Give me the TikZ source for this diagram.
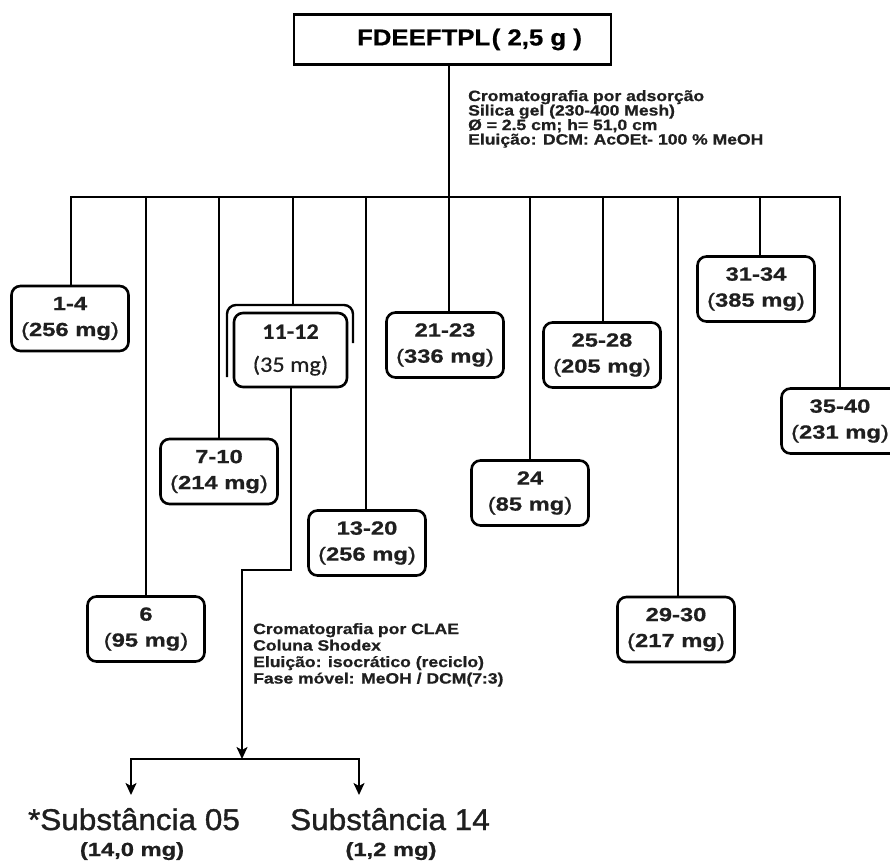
\documentclass[tikz,border=0pt]{standalone}
\usepackage{fontspec}
\usetikzlibrary{arrows.meta}
\setmainfont{Liberation Sans}
\newfontfamily\titlefont[FakeStretch=1.12,FakeBold=0.8]{Liberation Sans}
\newfontfamily\labfont[FakeStretch=1.25,FakeBold=0.8]{Liberation Sans}
\newfontfamily\notefont[FakeStretch=1.17,FakeBold=0.8]{Liberation Sans}
\newfontfamily\subfont[FakeStretch=1.05,FakeBold=1.2]{Liberation Sans}
\newfontfamily\calfont[FakeStretch=1.1,FakeBold=0.6]{Carlito}
% mass of a fraction: light parentheses around bold figures
\newcommand{\mass}[1]{{\mdseries(}#1{\mdseries)}}

\tikzset{
  fraction/.style={draw, line width=2.6pt, rounded corners=9pt,
    minimum width=117pt, minimum height=65pt, inner sep=0pt, align=center,
    text=black!88, font=\labfont\bfseries\fontsize{19}{26}\selectfont},
  conn/.style={line width=2pt},
  arrowline/.style={line width=2pt, -{Stealth[length=12pt,width=11pt,inset=3pt]}},
  note/.style={inner sep=0pt, align=left, anchor=north west, text=black!88},
}

\begin{document}
\begin{tikzpicture}[x=1pt,y=-1pt]
\useasboundingbox (0,0) rectangle (890,861);

% crude extract
\node[draw, line width=2.2pt, minimum width=317pt, minimum height=50pt, inner sep=0pt,
      font=\titlefont\bfseries\fontsize{23}{23}\selectfont] (top) at (452.5,39.5)
      {\hspace*{34pt}FDEEFTPL\hspace{1.5pt}( 2,5 g )};

% junctions on the collecting bar
\coordinate (j14)   at (71,197);
\coordinate (j6)    at (146,197);
\coordinate (j710)  at (219,197);
\coordinate (j1112) at (293,197);
\coordinate (j1320) at (366,197);
\coordinate (j2123) at (449,197);
\coordinate (j24)   at (530,197);
\coordinate (j2528) at (603,197);
\coordinate (j2930) at (678,197);
\coordinate (j3134) at (760,197);
\coordinate (j3540) at (840,197);

% column fractions
\node[fraction] (b14)   at (70,318.5)  {1-4\\\mass{256 mg}};
\node[fraction] (b6)    at (146,629)   {6\\\mass{95 mg}};
\node[fraction] (b710)  at (219,471.5) {7-10\\\mass{214 mg}};
\node[fraction, minimum width=113pt, minimum height=74pt,
      font=\calfont\fontsize{22}{33}\selectfont] (b1112) at (290.5,350)
      {\textbf{11-12}\\(35 mg)};
\node[fraction] (b1320) at (367,543)   {13-20\\\mass{256 mg}};
\node[fraction] (b2123) at (445,345)   {21-23\\\mass{336 mg}};
\node[fraction] (b24)   at (530,493)   {24\\\mass{85 mg}};
\node[fraction] (b2528) at (602,355)   {25-28\\\mass{205 mg}};
\node[fraction] (b2930) at (676,629.5) {29-30\\\mass{217 mg}};
\node[fraction] (b3134) at (756,289)   {31-34\\\mass{385 mg}};
\node[fraction] (b3540) at (840,421)   {35-40\\\mass{231 mg}};

% second frame around fraction 11-12
\coordinate (fbl) at (227,377);
\coordinate (ftl) at (227,305);
\coordinate (ftr) at (353,305);
\coordinate (fbr) at (353,343);
\draw[line width=2.4pt, rounded corners=9pt] (fbl) -- (ftl) -- (ftr) -- (fbr);

% column chromatography tree
\draw[conn] (top.south -| j2123) -- (j2123);
\draw[conn] (j14 |- b14.north) -- (j14) -- (j3540) -- (j3540 |- b3540.north);
\draw[conn] (j6) -- (j6 |- b6.north);
\draw[conn] (j710) -- (j710 |- b710.north);
\draw[conn] (j1112) -- (j1112 |- ftl);
\draw[conn] (j1320) -- (j1320 |- b1320.north);
\draw[conn] (j2123) -- (j2123 |- b2123.north);
\draw[conn] (j24) -- (j24 |- b24.north);
\draw[conn] (j2528) -- (j2528 |- b2528.north);
\draw[conn] (j2930) -- (j2930 |- b2930.north);
\draw[conn] (j3134) -- (j3134 |- b3134.north);

\node[note, font=\notefont\bfseries\fontsize{15}{14.5}\selectfont] (cc) at (468,90)
  {Cromatografia por adsorção\\Silica gel (230-400 Mesh)\\Ø = 2.5 cm; h= 51,0 cm\\Eluição: DCM: AcOEt- 100 \% MeOH};

% HPLC of fraction 11-12
\coordinate (turn)  at (242,570);
\coordinate (split) at (242,759);
\coordinate (bl)    at (131,759);
\coordinate (br)    at (359,759);
\coordinate (t05)   at (131,795);
\coordinate (t14)   at (359,795);
\draw[arrowline] (b1112.south) |- (turn) -- (split);
\draw[conn, line cap=rect] (bl) -- (br);
\draw[arrowline] (bl) -- (t05);
\draw[arrowline] (br) -- (t14);

\node[note, font=\notefont\bfseries\fontsize{15}{16.5}\selectfont] (hplc) at (253,623)
  {Cromatografia por CLAE\\Coluna Shodex\\Eluição: isocrático (reciclo)\\Fase móvel: MeOH / DCM(7:3)};

% isolated substances
\node[anchor=base, inner sep=0pt, text=black!88, font=\subfont\fontsize{30}{30}\selectfont] (s05) at (134,830) {*Substância 05};
\node[anchor=base, inner sep=0pt, text=black!88, font=\labfont\bfseries\fontsize{19}{19}\selectfont] (m05) at (132,856) {(14,0 mg)};
\node[anchor=base, inner sep=0pt, text=black!88, font=\subfont\fontsize{30}{30}\selectfont] (s14) at (390,830) {Substância 14};
\node[anchor=base, inner sep=0pt, text=black!88, font=\labfont\bfseries\fontsize{19}{19}\selectfont] (m14) at (391,856) {(1,2 mg)};
\end{tikzpicture}
\end{document}
